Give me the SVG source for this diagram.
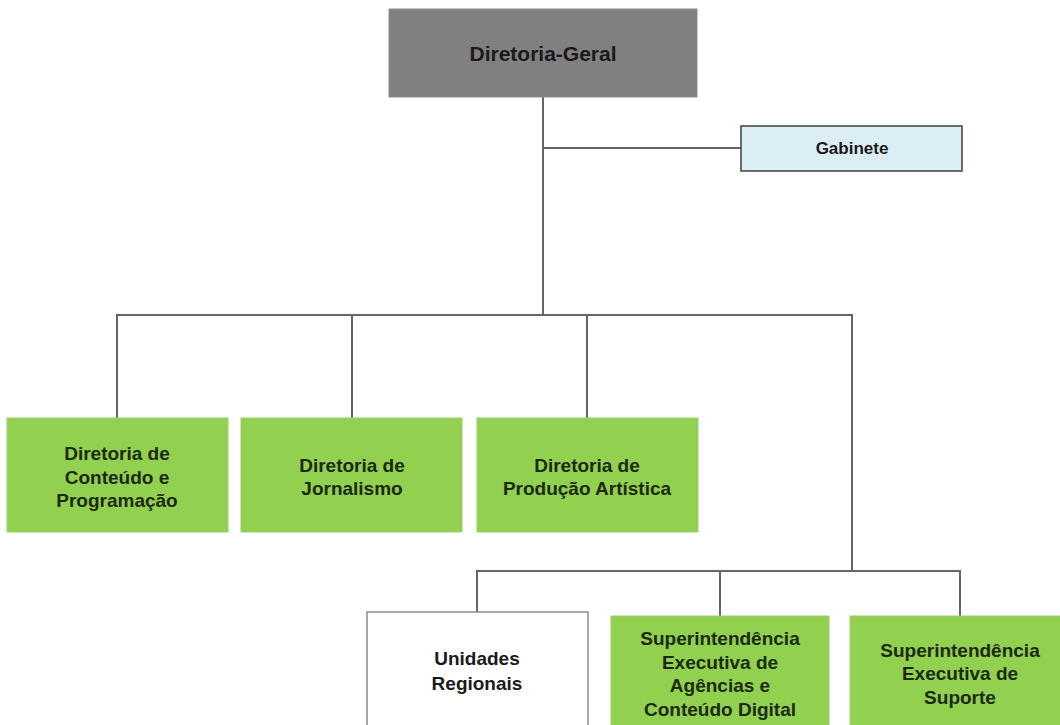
<svg xmlns="http://www.w3.org/2000/svg" width="1060" height="725" viewBox="0 0 1060 725">
<style>
.bg{fill:#ffffff}
.con{fill:none;stroke:#666666;stroke-width:2}
.green{fill:#92d050;stroke:#9ccf6a;stroke-width:1}
.t{font-family:"Liberation Sans",Arial,sans-serif;font-weight:bold;font-size:19px;fill:#1a2a10;text-anchor:middle}
.tk{font-family:"Liberation Sans",Arial,sans-serif;font-weight:bold;text-anchor:middle;fill:#1a1a1a}
</style>
<rect class="bg" x="0" y="0" width="1060" height="725"/>
<g id="connectors">
<path class="con" d="M543 97 V315"/>
<path class="con" d="M543 148 H741"/>
<path class="con" d="M117 418 V315 H852 V571"/>
<path class="con" d="M352 315 V418"/>
<path class="con" d="M587 315 V418"/>
<path class="con" d="M477 612 V571 H960 V616"/>
<path class="con" d="M720 571 V616"/>
</g>
<g id="diretoria-geral">
<rect x="389" y="9" width="308" height="88" fill="#808080" stroke="#8c8c8c" stroke-width="1"/>
<text class="tk" x="543" y="61" font-size="21">Diretoria-Geral</text>
</g>
<g id="gabinete">
<rect x="741" y="126" width="221" height="45" fill="#dbeef3" stroke="#404040" stroke-width="1.5"/>
<text class="tk" x="852" y="154" font-size="17">Gabinete</text>
</g>
<g id="dir-conteudo">
<rect class="green" x="7" y="418" width="221" height="114"/>
<text class="t" x="117" y="460">Diretoria de</text>
<text class="t" x="117" y="484">Conteúdo e</text>
<text class="t" x="117" y="507">Programação</text>
</g>
<g id="dir-jornalismo">
<rect class="green" x="241" y="418" width="221" height="114"/>
<text class="t" x="352" y="472">Diretoria de</text>
<text class="t" x="352" y="495">Jornalismo</text>
</g>
<g id="dir-producao">
<rect class="green" x="477" y="418" width="221" height="114"/>
<text class="t" x="587" y="472">Diretoria de</text>
<text class="t" x="587" y="495">Produção Artística</text>
</g>
<g id="unidades-regionais">
<rect x="367" y="612" width="221" height="125" fill="#ffffff" stroke="#8c8c8c" stroke-width="1.5"/>
<text class="tk" x="477" y="665" font-size="19">Unidades</text>
<text class="tk" x="477" y="690" font-size="19">Regionais</text>
</g>
<g id="sup-agencias">
<rect class="green" x="611" y="616" width="218" height="120"/>
<text class="t" x="720" y="645">Superintendência</text>
<text class="t" x="720" y="669">Executiva de</text>
<text class="t" x="720" y="692">Agências e</text>
<text class="t" x="720" y="716">Conteúdo Digital</text>
</g>
<g id="sup-suporte">
<rect class="green" x="850" y="616" width="220" height="120"/>
<text class="t" x="960" y="657">Superintendência</text>
<text class="t" x="960" y="680">Executiva de</text>
<text class="t" x="960" y="704">Suporte</text>
</g>
</svg>
